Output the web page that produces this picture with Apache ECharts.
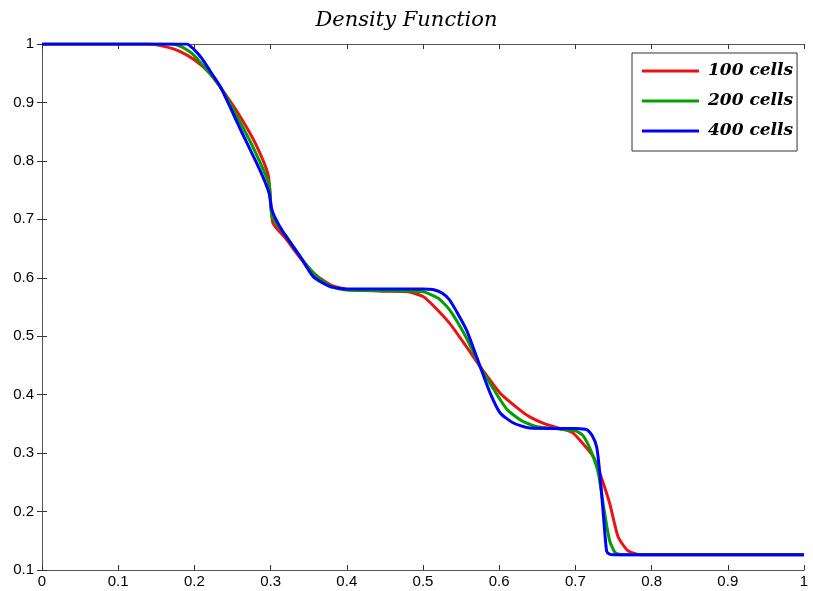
<!DOCTYPE html>
<html>
<head>
<meta charset="utf-8">
<title>Density Function</title>
<script src="https://cdn.jsdelivr.net/npm/echarts@6/dist/echarts.min.js"></script>
<style>
  html, body { margin: 0; padding: 0; background: #fff; }
  #chart { width: 813px; height: 591px; }
</style>
</head>
<body>
<div id="chart"></div>
<script>
// values
var xTicks = [0, 0.1, 0.2, 0.3, 0.4, 0.5, 0.6, 0.7, 0.8, 0.9, 1];
var yTicks = [0.1, 0.2, 0.3, 0.4, 0.5, 0.6, 0.7, 0.8, 0.9, 1];
var seriesNames = ['100 cells', '200 cells', '400 cells'];

var x100 = [0, 0.14, 0.16, 0.18, 0.2, 0.22, 0.24, 0.26, 0.28, 0.297, 0.303, 0.32, 0.34, 0.36, 0.38, 0.40, 0.45, 0.48, 0.5, 0.513, 0.535, 0.557, 0.575, 0.601, 0.627, 0.64, 0.66, 0.68, 0.695, 0.706, 0.7235, 0.732, 0.745, 0.756, 0.768, 0.781, 0.8, 1];
var y100 = [1, 1, 0.996, 0.988, 0.973, 0.95, 0.915, 0.876, 0.83, 0.775, 0.694, 0.667, 0.632, 0.604, 0.587, 0.58, 0.577, 0.576, 0.568, 0.553, 0.522, 0.482, 0.448, 0.403, 0.374, 0.362, 0.35, 0.342, 0.336, 0.322, 0.294, 0.266, 0.214, 0.157, 0.134, 0.127, 0.126, 0.126];

var x200 = [0, 0.17, 0.18, 0.19, 0.2, 0.22, 0.234, 0.26, 0.28, 0.298, 0.302, 0.32, 0.34, 0.36, 0.38, 0.40, 0.45, 0.5, 0.52, 0.535, 0.557, 0.575, 0.59, 0.61, 0.63, 0.65, 0.68, 0.70, 0.71, 0.72, 0.73, 0.738, 0.745, 0.752, 0.76, 1];
var y200 = [1, 1, 0.997, 0.99, 0.98, 0.95, 0.927, 0.866, 0.815, 0.76, 0.705, 0.672, 0.634, 0.603, 0.585, 0.579, 0.578, 0.576, 0.565, 0.545, 0.497, 0.448, 0.415, 0.375, 0.355, 0.345, 0.341, 0.338, 0.33, 0.305, 0.266, 0.2, 0.15, 0.13, 0.126, 0.126];

var x400 = [0, 0.19, 0.2, 0.21, 0.22, 0.234, 0.26, 0.286, 0.298, 0.301, 0.305, 0.317, 0.339, 0.356, 0.378, 0.4, 0.5, 0.513, 0.525, 0.535, 0.557, 0.575, 0.588, 0.601, 0.618, 0.64, 0.7, 0.715, 0.722, 0.728, 0.732, 0.737, 0.741, 0.745, 0.75, 1];
var y400 = [1, 1, 0.99, 0.975, 0.955, 0.927, 0.855, 0.784, 0.745, 0.72, 0.705, 0.677, 0.636, 0.602, 0.585, 0.581, 0.581, 0.58, 0.574, 0.562, 0.511, 0.448, 0.403, 0.369, 0.352, 0.343, 0.342, 0.34, 0.33, 0.31, 0.266, 0.19, 0.132, 0.127, 0.126, 0.126];

function pairs(xs, ys) {
  return xs.map(function (x, i) { return [x, ys[i]]; });
}

var colors = ['#ee1111', '#00a000', '#0000ff'];
var allData = [pairs(x100, y100), pairs(x200, y200), pairs(x400, y400)];

var chart = echarts.init(document.getElementById('chart'));

var axisCommon = {
  type: 'value',
  splitLine: { show: false },
  axisLine: { show: true, lineStyle: { color: '#555', width: 1 } },
  axisTick: { show: true, inside: true, length: 5, lineStyle: { color: '#333' } }
};

var option = {
  animation: false,
  backgroundColor: '#fff',
  title: {
    text: 'Density Function',
    left: 'center',
    top: 5,
    textStyle: {
      fontFamily: 'DejaVu Serif',
      fontStyle: 'italic',
      fontWeight: 'normal',
      fontSize: 21,
      color: '#000'
    }
  },
  legend: {
    data: seriesNames,
    orient: 'vertical',
    left: 632,
    top: 53,
    padding: [8, 4, 10, 10],
    itemGap: 10,
    itemWidth: 57,
    itemHeight: 3,
    icon: 'rect',
    borderColor: '#333',
    borderWidth: 1,
    backgroundColor: '#fff',
    textStyle: {
      fontFamily: 'DejaVu Serif',
      fontStyle: 'italic',
      fontWeight: 'bold',
      fontSize: 17,
      lineHeight: 20,
      padding: [0, 0, 0, 4],
      color: '#000'
    }
  },
  grid: { left: 42, right: 9, top: 44, bottom: 21, containLabel: false },
  xAxis: [
    Object.assign({}, axisCommon, {
      position: 'bottom',
      min: xTicks[0], max: xTicks[xTicks.length - 1], interval: 0.1,
      axisLabel: {
        show: true, margin: 4, color: '#000',
        fontFamily: 'Liberation Sans', fontSize: 15,
        formatter: function (v) { return String(+v.toFixed(1)); }
      }
    }),
    Object.assign({}, axisCommon, {
      position: 'top',
      min: xTicks[0], max: xTicks[xTicks.length - 1], interval: 0.1,
      axisLabel: { show: false }
    })
  ],
  yAxis: [
    Object.assign({}, axisCommon, {
      position: 'left',
      min: yTicks[0], max: yTicks[yTicks.length - 1], interval: 0.1,
      axisLabel: {
        show: true, margin: 8, color: '#000',
        fontFamily: 'Liberation Sans', fontSize: 15,
        formatter: function (v) { return String(+v.toFixed(1)); }
      }
    }),
    Object.assign({}, axisCommon, {
      position: 'right',
      min: yTicks[0], max: yTicks[yTicks.length - 1], interval: 0.1,
      axisLabel: { show: false }
    })
  ],
  series: seriesNames.map(function (name, i) {
    return {
      name: name,
      type: 'line',
      data: allData[i],
      showSymbol: false,
      smooth: 0.2,
      lineStyle: { color: colors[i], width: 3 },
      itemStyle: { color: colors[i] },
      z: 2 + i
    };
  })
};

chart.setOption(option);
</script>
</body>
</html>
